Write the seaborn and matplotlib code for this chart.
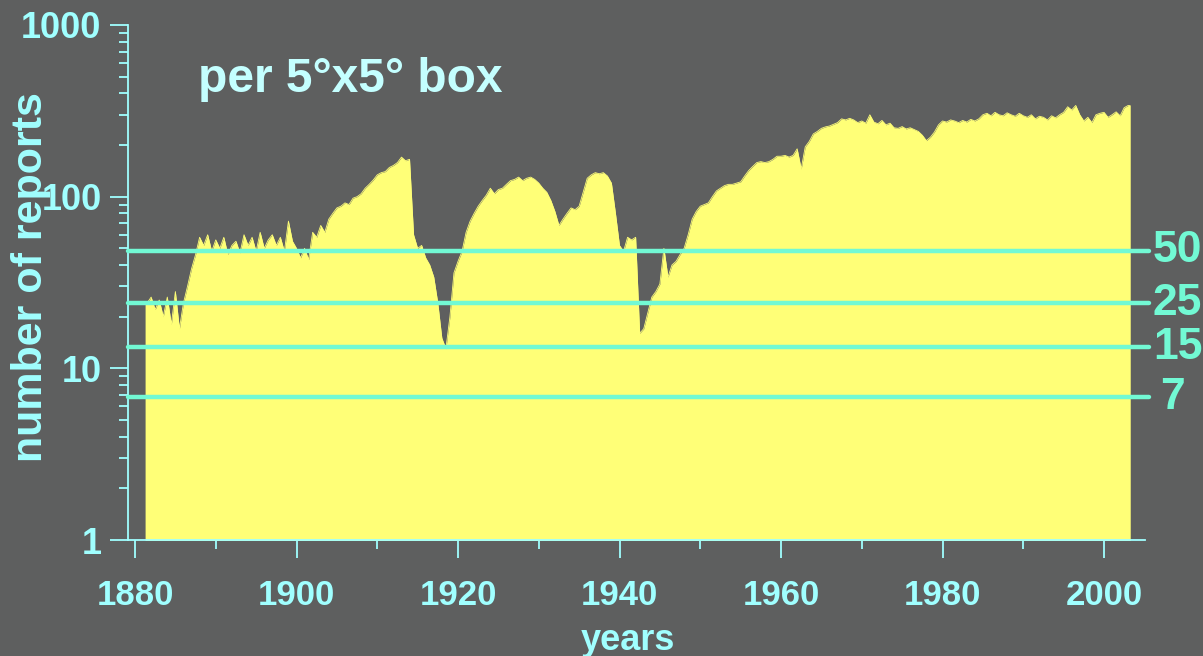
import numpy as np
import pandas as pd
import matplotlib
matplotlib.use("Agg")
import matplotlib.pyplot as plt
from matplotlib.ticker import LogLocator, FixedLocator, NullFormatter, MultipleLocator
import seaborn as sns

# ---- data: number of reports per 5x5 box, half-year samples starting 1881.5 ----
reports_1881_1900 = [24,
    26, 22, 25, 20, 26, 18, 28, 17, 24, 30,
    38, 46, 58, 52, 60, 48, 56, 50, 58, 46,
    52, 55, 47, 60, 52, 58, 48, 62, 50, 56,
    60, 52, 58, 48, 72, 55]
reports_1900_1920 = [50, 44, 50, 43, 62, 58, 68, 62, 74, 80,
    86, 88, 92, 90, 98, 100, 104, 112, 118, 125,
    134, 138, 140, 148, 152, 158, 170, 162, 165, 60,
    50, 52, 44, 40, 34, 24, 15, 13, 20, 36]
reports_1920_1940 = [42, 48, 62, 72, 80, 88, 95, 102, 112, 104,
    110, 112, 118, 124, 126, 130, 124, 128, 130, 126,
    120, 112, 106, 95, 82, 68, 74, 80, 86, 84,
    88, 106, 128, 134, 138, 136, 138, 132, 120, 80]
reports_1940_1960 = [52, 48, 58, 56, 58, 16, 17, 21, 26, 28,
    31, 50, 34, 40, 42, 46, 50, 60, 74, 82,
    88, 90, 92, 100, 108, 112, 116, 118, 118, 120,
    122, 132, 142, 150, 158, 160, 158, 160, 165, 172]
reports_1960_1980 = [172, 174, 170, 174, 190, 145, 195, 210, 232, 240,
    250, 255, 258, 264, 270, 284, 280, 286, 280, 270,
    276, 268, 300, 272, 266, 278, 262, 268, 252, 250,
    256, 248, 252, 246, 240, 228, 212, 222, 238, 262]
reports_1980_2003 = [276, 272, 280, 276, 270, 278, 272, 282, 276, 284,
    300, 306, 296, 310, 300, 296, 308, 300, 294, 306,
    296, 290, 300, 284, 294, 290, 280, 296, 288, 300,
    310, 334, 320, 340, 300, 276, 290, 270, 300, 306,
    310, 290, 300, 312, 296, 330, 340]

reports = np.array(reports_1881_1900 + reports_1900_1920 + reports_1920_1940
                   + reports_1940_1960 + reports_1960_1980 + reports_1980_2003, float)
years = 1881.5 + 0.5 * np.arange(len(reports))

threshold_values = [48.5, 24.0, 13.3, 6.8]
threshold_labels = ["50", "25", "15", "7"]

x_major = [1880, 1900, 1920, 1940, 1960, 1980, 2000]
y_major = [1, 10, 100, 1000]
y_major_labels = ["1", "10", "100", "1000"]

# ---- style ----
BG = "#5e5f5f"
YELLOW = "#ffff77"
CYAN = "#a0ffff"
TITLE = "#c4ffff"
LINEC = "#72f9d4"

sns.set_style("ticks")
plt.rcParams["font.family"] = ["Liberation Sans", "DejaVu Sans"]
plt.rcParams["font.weight"] = "bold"

W, H = 1203, 656
fig = plt.figure(figsize=(W / 100, H / 100), dpi=100, facecolor=BG)
ax = fig.add_axes([128 / W, 1 - 540 / H, (1145 - 128) / W, (540 - 25) / H])
ax.set_facecolor(BG)
ax.set_yscale("log")

# outline through seaborn, filled area under it
xs = np.concatenate([[years[0] - 0.25], years, [years[-1] + 0.25]])
ys = np.concatenate([[reports[0]], reports, [reports[-1]]])
df = pd.DataFrame({"year": xs, "reports": ys})
sns.lineplot(data=df, x="year", y="reports", color=YELLOW,
             linewidth=0.6, ax=ax, zorder=2)
ax.fill_between(xs, 0.5, ys, color=YELLOW, linewidth=0, zorder=2)

ax.set_ylim(1, 1000)
ax.set_xlim(1880 - 7 / 8.075, 1880 + (1145 - 135) / 8.075)

for v, lab in zip(threshold_values, threshold_labels):
    ax.axhline(v, xmin=0, xmax=(1149 - 128) / (1145 - 128), color=LINEC,
               lw=3.2, clip_on=False, zorder=5)
    if len(lab) == 1:
        ax.text((1173 - 128) / (1145 - 128), v, lab, transform=ax.get_yaxis_transform(),
                ha="center", va="center", color=LINEC, fontsize=32, fontweight="bold")
    else:
        ax.text((1153 - 128) / (1145 - 128), v, lab, transform=ax.get_yaxis_transform(),
                ha="left", va="center", color=LINEC, fontsize=32, fontweight="bold")

for s in ["top", "right"]:
    ax.spines[s].set_visible(False)
for s in ["left", "bottom"]:
    ax.spines[s].set_color(CYAN)
    ax.spines[s].set_linewidth(1.3)

ax.xaxis.set_major_locator(FixedLocator(x_major))
ax.xaxis.set_minor_locator(MultipleLocator(10))
ax.set_xticklabels([str(x) for x in x_major])
ax.yaxis.set_major_locator(FixedLocator(y_major))
ax.set_yticklabels(y_major_labels)
ax.yaxis.set_minor_locator(LogLocator(base=10, subs=np.arange(2, 10)))
ax.yaxis.set_minor_formatter(NullFormatter())

ax.tick_params(axis="both", which="major", direction="out", length=13, width=1.3,
               color=CYAN, labelcolor=CYAN)
ax.tick_params(axis="both", which="minor", direction="out", length=6.5, width=1.3,
               color=CYAN)
ax.tick_params(axis="y", which="major", pad=6, labelsize=26)
ax.tick_params(axis="x", which="major", pad=15, labelsize=25)
for lab in ax.get_xticklabels() + ax.get_yticklabels():
    lab.set_fontweight("bold")

ax.set_xlabel("")
ax.set_ylabel("")

fig.text(31 / W, 1 - 277 / H, "number of reports", rotation=90, ha="center", va="center",
         color=CYAN, fontsize=31, fontweight="bold")
fig.text(628 / W, 1 - 640 / H, "years", ha="center", va="center",
         color=CYAN, fontsize=26, fontweight="bold")
fig.text(198 / W, 1 - 92 / H, "per 5°x5° box", ha="left", va="baseline",
         color=TITLE, fontsize=34.5, fontweight="bold")

fig.savefig("out.png", dpi=100, facecolor=BG)
